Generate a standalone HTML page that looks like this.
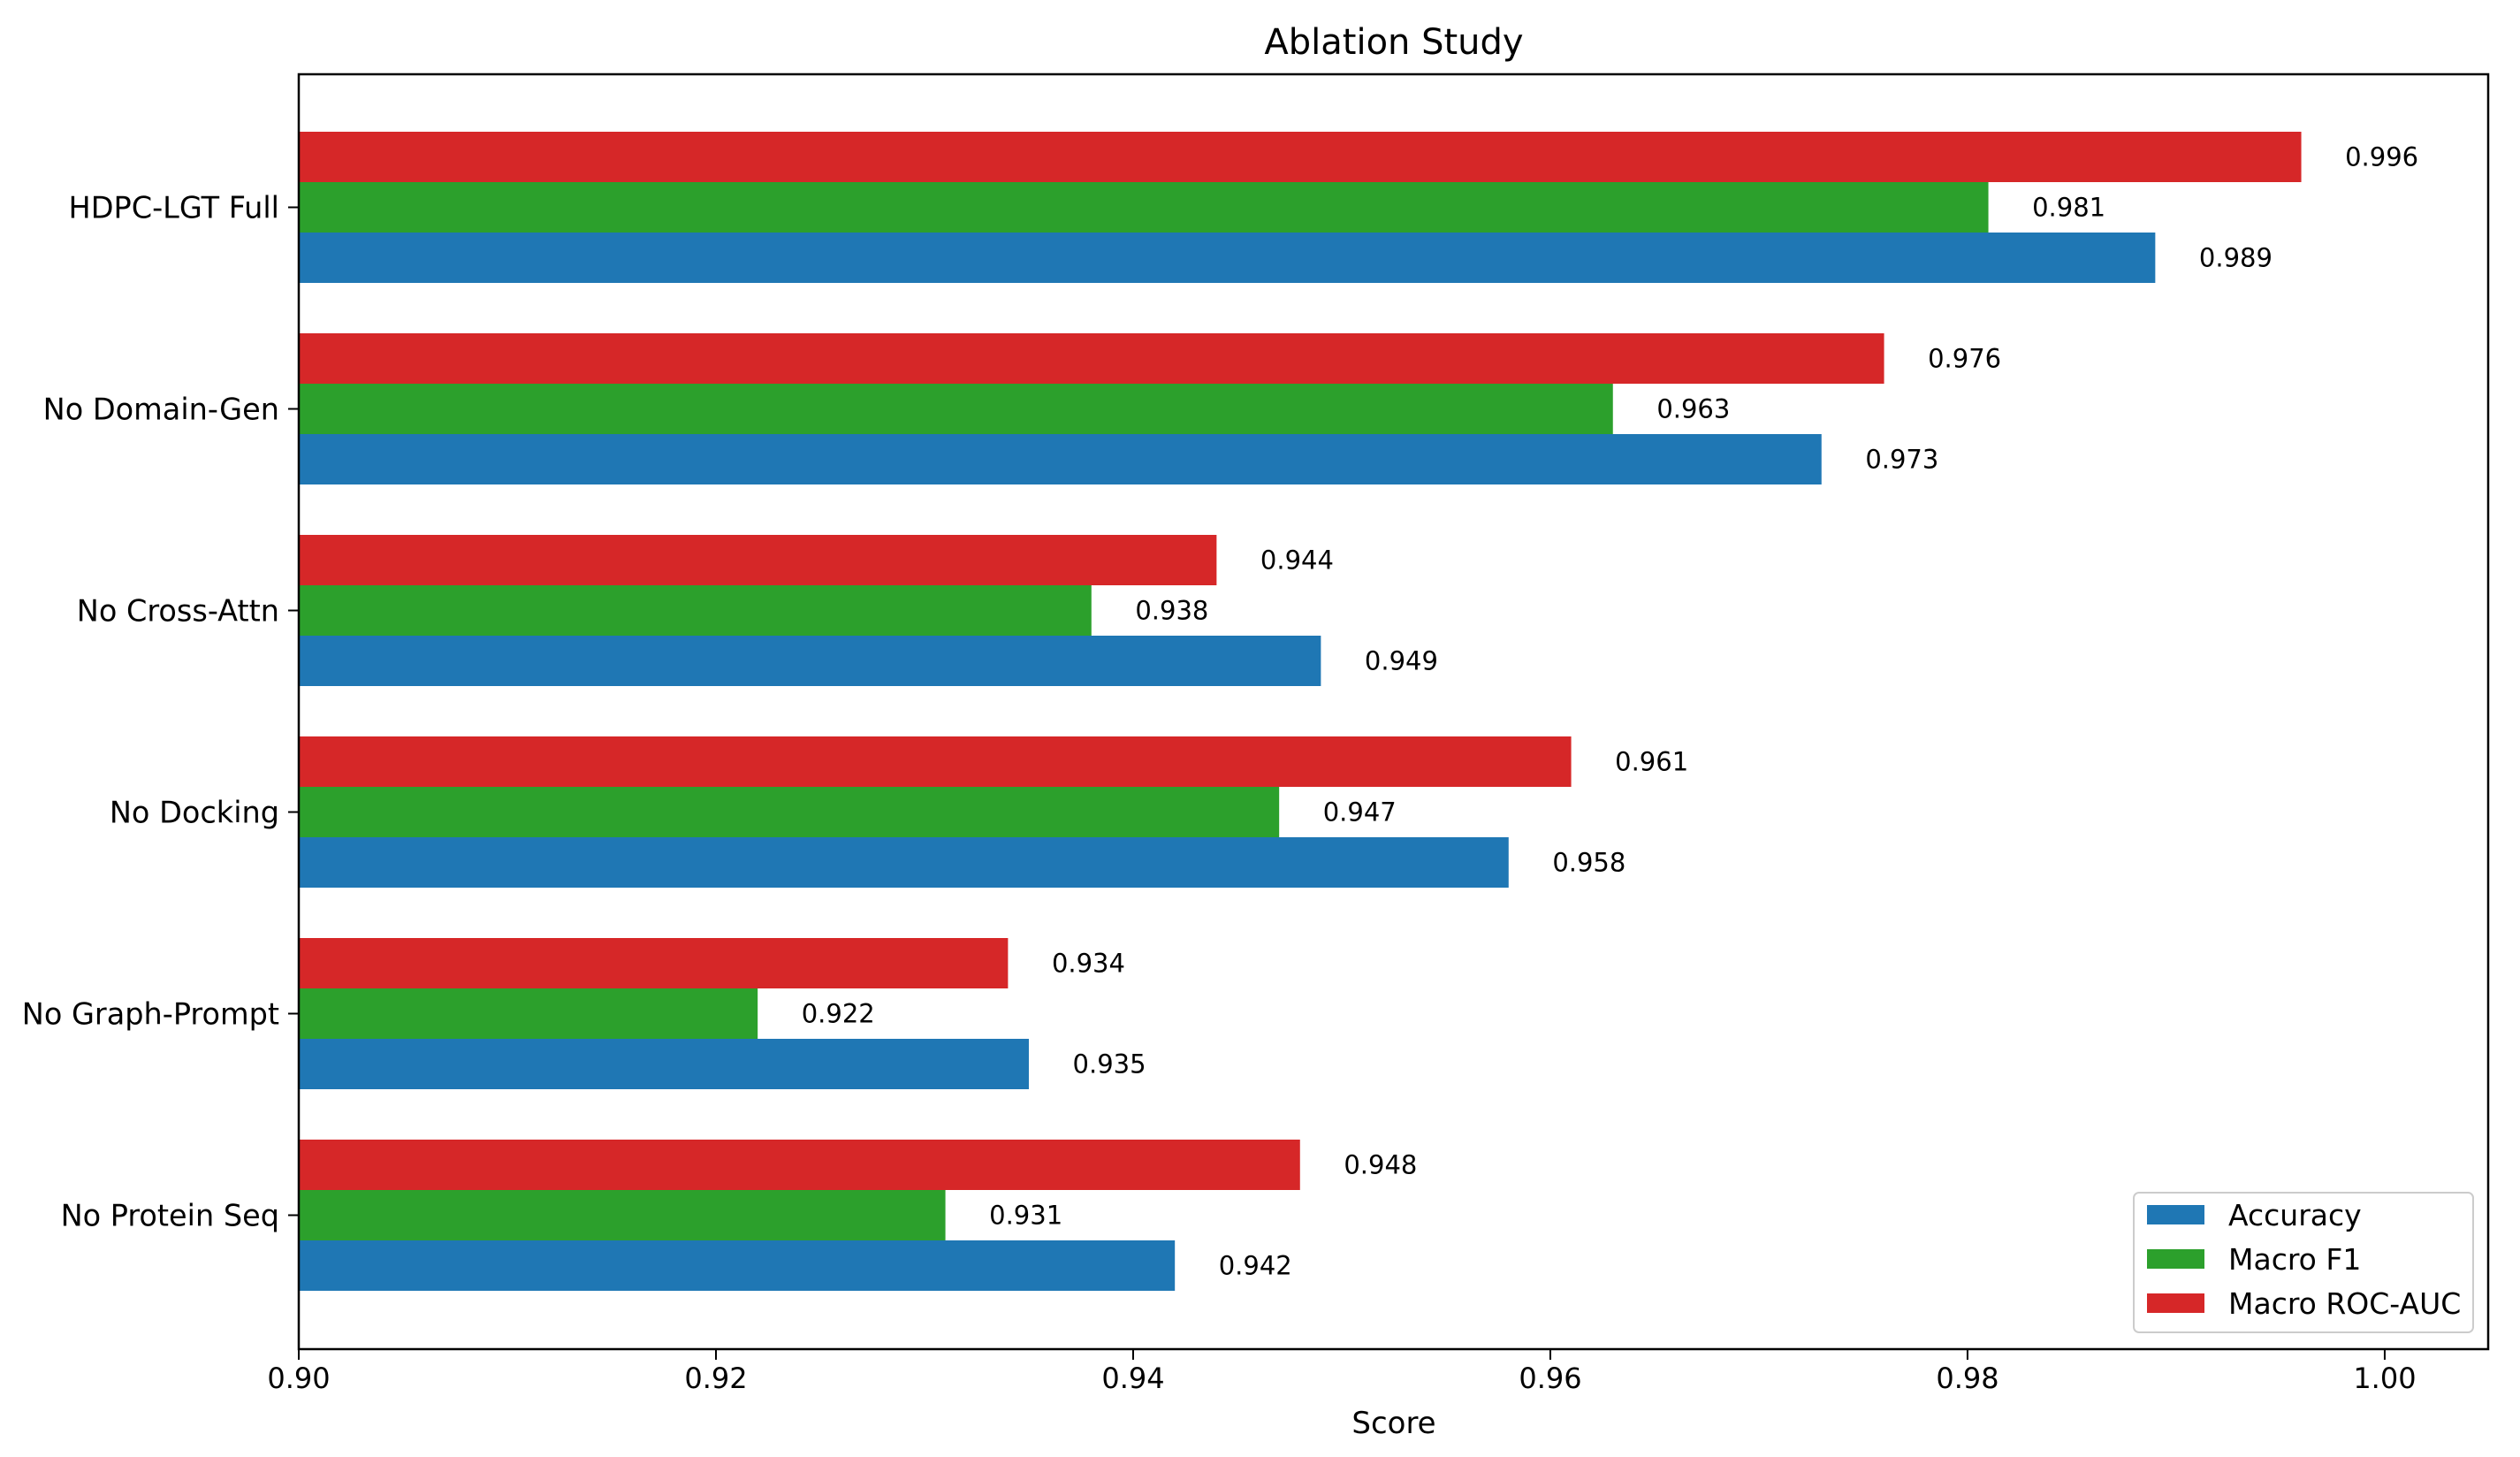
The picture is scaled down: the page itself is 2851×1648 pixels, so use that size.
<!DOCTYPE html>
<html><head><meta charset="utf-8"><style>
html,body{margin:0;padding:0;background:#fff}
svg{display:block;font-family:"DejaVu Sans","Liberation Sans",sans-serif}
</style></head><body>
<svg id="chart" width="2851" height="1648" viewBox="0 0 2851 1648">
<rect width="2851" height="1648" fill="#fff"/>
<text x="1577" y="61" font-size="40" text-anchor="middle" fill="#000">Ablation Study</text>
<g id="bars"></g>
<g id="axes"></g>
<g id="legend">
 <rect x="2414" y="1349" width="384" height="158" rx="6" fill="#fff" stroke="#ccc" stroke-width="2"/>
</g>
<text x="1577" y="1621" font-size="34" text-anchor="middle" fill="#000">Score</text>
</svg>
<script>
const categories = ["HDPC-LGT Full","No Domain-Gen","No Cross-Attn","No Docking","No Graph-Prompt","No Protein Seq"];
const accuracy = [0.989,0.973,0.949,0.958,0.935,0.942];
const macroF1 = [0.981,0.963,0.938,0.947,0.922,0.931];
const rocAuc = [0.996,0.976,0.944,0.961,0.934,0.948];
const xTicks = [0.90,0.92,0.94,0.96,0.98,1.00];
const seriesNames = ["Accuracy","Macro F1","Macro ROC-AUC"];

const NS="http://www.w3.org/2000/svg";
const L=338,R=2815,T=84,B=1526;
const xMin=0.9,xMax=1.00496;
const X=v=>L+(v-xMin)/(xMax-xMin)*(R-L);
const y0=234.5,step=228;
const Yc=i=>y0+i*step;
const bh=57;
const colors=["#1f77b4","#2ca02c","#d62728"];
const series=[accuracy,macroF1,rocAuc];
const offsets=[1,0,-1];
function mk(tag,attrs,parent){const e=document.createElementNS(NS,tag);for(const k in attrs)e.setAttribute(k,attrs[k]);parent.appendChild(e);return e;}
const gb=document.getElementById('bars'), ga=document.getElementById('axes'), gl=document.getElementById('legend');
series.forEach((s,si)=>{
 s.forEach((v,i)=>{
  const cy=Yc(i)+offsets[si]*bh;
  const r=mk('rect',{x:L,y:cy-bh/2,width:X(v)-L,height:bh,fill:colors[si]},gb);
  
  
  const t=mk('text',{x:X(v+0.0021),y:cy+10,'font-size':29,fill:'#000'},gb);
  t.textContent=v.toFixed(3);
  
  
 });
});
const fr=mk('rect',{x:L,y:T,width:R-L,height:B-T,fill:'none',stroke:'#000','stroke-width':2.5},ga);


xTicks.forEach(v=>{
 mk('line',{x1:X(v),x2:X(v),y1:B,y2:B+12,stroke:'#000','stroke-width':2},ga);
 const t=mk('text',{x:X(v),y:B+44,'font-size':32,'text-anchor':'middle',fill:'#000'},ga);
 t.textContent=v.toFixed(2);
 
 
});
categories.forEach((c,i)=>{
 mk('line',{x1:L-12,x2:L,y1:Yc(i),y2:Yc(i),stroke:'#000','stroke-width':2},ga);
 const t=mk('text',{x:L-22,y:Yc(i)+12,'font-size':33.5,'text-anchor':'end',fill:'#000'},ga);
 t.textContent=c;
 
 
});
seriesNames.forEach((n,i)=>{
 const cy=1374+i*50;
 const p=mk('rect',{x:2429,y:cy-11,width:65,height:22,fill:colors[i]},gl);
 
 
 const t=mk('text',{x:2521,y:cy+12,'font-size':33,fill:'#000'},gl);
 t.textContent=n;
 
 
});
</script>
</body></html>
